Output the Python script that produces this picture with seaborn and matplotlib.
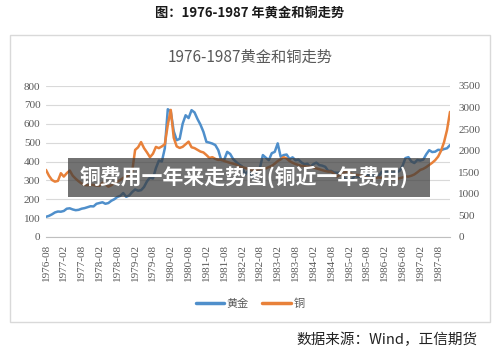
import matplotlib
matplotlib.use('Agg')
import matplotlib.pyplot as plt
from matplotlib.patches import Rectangle
from matplotlib.lines import Line2D
import pandas as pd
import seaborn as sns

# monthly data, 1976-08 .. 1987-12
months = pd.date_range('1976-08-01', '1987-12-01', freq='MS')

gold = [107, 112, 120, 130, 135,
        134, 138, 150, 152, 146, 142, 144, 150, 153, 158, 163, 162,
        176, 180, 184, 176, 180, 192, 200, 212, 218, 233, 213, 220,
        238, 252, 245, 248, 265, 295, 315, 310, 365, 405, 400, 470,
        677, 665, 560, 513, 520, 600, 645, 630, 672, 660, 625, 595,
        557, 504, 500, 495, 487, 460, 407, 410, 451, 440, 413, 398,
        384, 374, 330, 350, 333, 314, 339, 364, 434, 420, 407, 444,
        451, 496, 425, 434, 437, 413, 422, 407, 410, 395, 385, 388,
        372, 386, 394, 381, 378, 372, 350, 350, 342, 340, 342, 320,
        305, 300, 305, 325, 318, 318, 318, 330, 324, 326, 325, 322,
        345, 340, 346, 340, 342, 343, 350, 376, 418, 423, 400, 392,
        408, 405, 410, 438, 460, 450, 452, 462, 460, 466, 470, 487]

copper = [1555, 1420, 1322, 1283, 1300,
          1478, 1400, 1480, 1540, 1420, 1350, 1290, 1240, 1206, 1200, 1210, 1206,
          1190, 1185, 1260, 1220, 1167, 1200, 1250, 1283, 1320, 1370, 1390, 1440,
          1515, 2018, 2080, 2200, 2060, 1960, 1850, 1930, 2088, 2060, 2100, 2150,
          2600, 2946, 2300, 2100, 2064, 2090, 2150, 2210, 2080, 2060, 2020, 1980,
          1960, 1900, 1833, 1850, 1810, 1786, 1790, 1760, 1740, 1717, 1700, 1680,
          1640, 1620, 1600, 1580, 1560, 1540, 1560, 1580, 1600, 1590, 1620, 1650,
          1700, 1760, 1800, 1850, 1820, 1760, 1720, 1690, 1670, 1650, 1640, 1631,
          1631, 1610, 1590, 1570, 1550, 1530, 1515, 1515, 1460, 1400, 1440, 1480,
          1515, 1490, 1460, 1440, 1438, 1420, 1400, 1380, 1370, 1360, 1370, 1380,
          1370, 1360, 1350, 1350, 1340, 1350, 1360, 1380, 1400, 1400, 1420, 1450,
          1500, 1555, 1580, 1620, 1670, 1720, 1780, 1863, 2000, 2200, 2480, 2900]

left_ticks = list(range(0, 801, 100))
right_ticks = list(range(0, 3501, 500))

sns.set_style('white')
plt.rcParams['font.family'] = ['Noto Sans CJK SC', 'DejaVu Sans']

blue = '#4f8fcb'
orange = '#e8813a'
grey = '#595959'

df = pd.DataFrame({'i': range(len(months)), 'gold': gold, 'copper': copper})

fig = plt.figure(figsize=(5, 3.55), dpi=100)

fig.text(0.5, 1 - 13 / 355, '图：1976-1987 年黄金和铜走势', ha='center', va='center',
         fontsize=9.5, fontweight='bold', color='#1a1a1a')
fig.patches.append(Rectangle((10 / 500, 33 / 355), 480 / 500, 287 / 355,
                             transform=fig.transFigure, fill=False,
                             edgecolor='#d9d9d9', lw=1))
fig.text(0.5, 1 - 57 / 355, '1976-1987黄金和铜走势', ha='center', va='center',
         fontsize=11, color=grey)

ax = fig.add_axes([46 / 500, 118 / 355, 404 / 500, 151 / 355])
sns.lineplot(data=df, x='i', y='gold', ax=ax, color=blue, lw=1.8)
ax2 = ax.twinx()
sns.lineplot(data=df, x='i', y='copper', ax=ax2, color=orange, lw=1.8)

ax.set_xlim(0, len(months) - 1)
ax.set_ylim(0, 800)
ax2.set_ylim(0, 3500)
ax.set_yticks(left_ticks)
ax2.set_yticks(right_ticks)
xt = list(range(0, len(months), 6))
ax.set_xticks(xt)
ax.set_xticklabels([months[k].strftime('%Y-%m') for k in xt], rotation=90,
                   family='Liberation Serif')
for a in (ax, ax2):
    a.set_xlabel('')
    a.set_ylabel('')
    for s in a.spines.values():
        s.set_visible(False)
ax.spines['bottom'].set_visible(True)
ax.spines['bottom'].set_color('#bfbfbf')
ax.grid(axis='y', color='#d9d9d9', lw=0.8)
ax.tick_params(axis='x', length=3, color='#bfbfbf', labelsize=8, labelcolor=grey, pad=2)
ax.tick_params(axis='y', length=0, labelsize=8, labelcolor=grey, pad=4)
ax2.tick_params(axis='y', length=0, labelsize=8, labelcolor=grey, pad=6)
for lab in ax.get_yticklabels() + ax2.get_yticklabels():
    lab.set_family('Liberation Serif')

handles = [Line2D([], [], color=blue, lw=2.5), Line2D([], [], color=orange, lw=2.5)]
fig.legend(handles, ['黄金', '铜'], loc='center', bbox_to_anchor=(0.5, 1 - 304 / 355),
           ncol=2, frameon=False, fontsize=8, handlelength=2.6, columnspacing=1.2,
           handletextpad=0.2, labelcolor=grey)

# watermark banner
fig.patches.append(Rectangle((68 / 500, 158 / 355), 362 / 500, 39 / 355,
                             transform=fig.transFigure, facecolor='#3c3c3c',
                             alpha=0.72, edgecolor='none', zorder=10))
fig.text(244 / 500, 1 - 177 / 355, '铜费用一年来走势图(铜近一年费用)', ha='center', va='center',
         fontsize=15, fontweight='bold', color='white', zorder=11)

fig.text(478 / 500, 1 - 340 / 355, '数据来源：Wind，正信期货', ha='right', va='center',
         fontsize=10.5, color='#222222')

fig.savefig('out.png', dpi=100)
